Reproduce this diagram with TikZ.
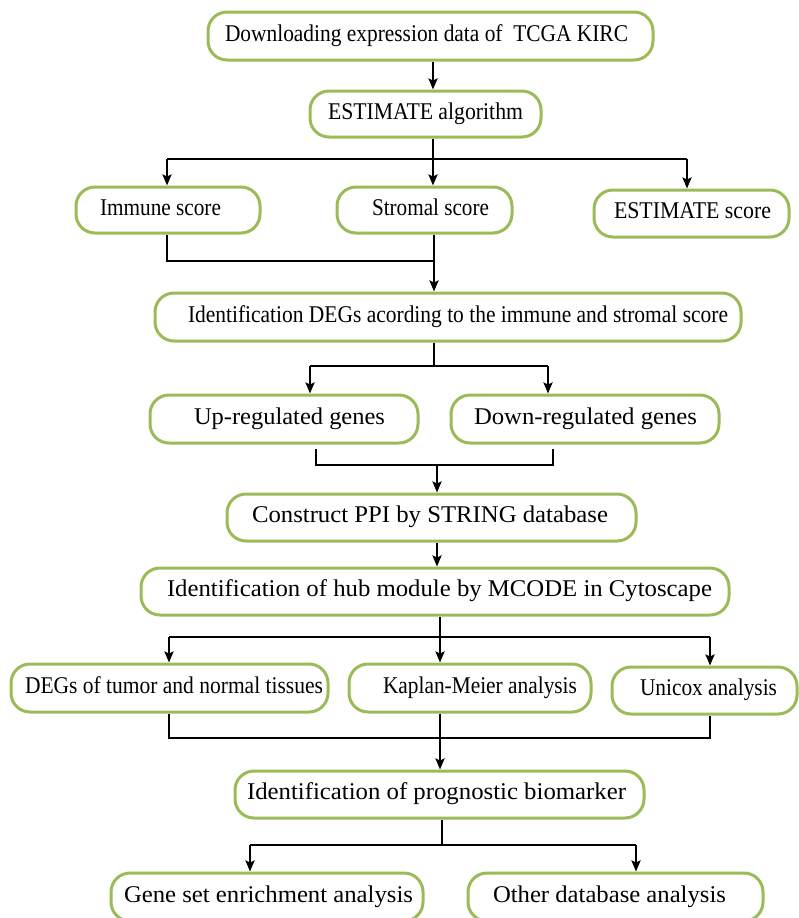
\documentclass[tikz,border=0pt]{standalone}
\usepackage{fontspec}
\setmainfont{Liberation Serif}
\usepackage{graphicx}
\usetikzlibrary{arrows.meta}
\definecolor{boxgreen}{HTML}{9BBB59}
\newcommand{\flowbox}[8]{%
  \node[flowboxstyle, minimum width={(#3-#2)*1pt}, minimum height={(#5-#4)*1pt}]
    (#1) at ({(#2+#3)/2},{(#4+#5)/2})
    {\makebox[\dimexpr #3pt-#2pt\relax][l]{\hspace*{\dimexpr #6pt-#2pt\relax}\resizebox{#7pt}{\height}{#8}}};%
}
\tikzset{
  flowboxstyle/.style={draw=boxgreen, line width=3pt, fill=white, rounded corners=19pt,
    inner xsep=0pt, inner ysep=0pt, text height=18pt, text depth=8pt,
    font=\fontsize{24}{28}\selectfont},
  ln/.style={line width=2.5pt, draw=black},
  arr/.style={line width=2.5pt, draw=black, -{Stealth[length=11pt,width=9pt,inset=2pt]}}
}
\begin{document}
\begin{tikzpicture}[x=1pt,y=-1pt]
\useasboundingbox (0,0) rectangle (799,918);
\clip (0,0) rectangle (799,918);
\flowbox{top}{208}{653}{12}{60}{225}{403}{Downloading expression data of \ TCGA KIRC}
\flowbox{estalg}{310}{541}{91}{137}{328}{195}{ESTIMATE algorithm}
\flowbox{immune}{76}{260}{187}{233}{100}{121}{Immune score}
\flowbox{stromal}{337}{512}{187}{233}{372}{117}{Stromal score}
\flowbox{estscore}{594}{789}{190}{237}{614}{157}{ESTIMATE score}
\flowbox{degid}{155}{741}{293}{341}{188}{540}{Identification DEGs acording to the immune and stromal score}
\flowbox{up}{150}{418}{395}{443}{194}{191}{Up-regulated genes}
\flowbox{down}{451}{719}{395}{443}{474}{223}{Down-regulated genes}
\flowbox{ppi}{227}{636}{494}{541}{252}{356}{Construct PPI by STRING database}
\flowbox{hub}{141}{729}{568}{615}{167}{545}{Identification of hub module by MCODE in Cytoscape}
\flowbox{tumor}{11}{328}{664}{712}{25}{298}{DEGs of tumor and normal tissues}
\flowbox{km}{349}{591}{664}{712}{383}{194}{Kaplan-Meier analysis}
\flowbox{unicox}{612}{797}{667}{714}{640}{137}{Unicox analysis}
\flowbox{prog}{235}{644}{771}{818}{247}{379}{Identification of prognostic biomarker}
\flowbox{gsea}{111}{423}{873}{921}{124}{289}{Gene set enrichment analysis}
\flowbox{other}{468}{763}{873}{921}{493}{233}{Other database analysis}
% junction coordinates
\coordinate (a1) at (433,159); \coordinate (a1L) at (167,159); \coordinate (a1R) at (687,159);
\coordinate (b1) at (434,261); \coordinate (b1L) at (167,261);
\coordinate (c1) at (434,366); \coordinate (c1L) at (310,366); \coordinate (c1R) at (548,366);
\coordinate (dL0) at (316,449); \coordinate (dR0) at (553,449);
\coordinate (d1) at (437,465); \coordinate (d1L) at (316,465); \coordinate (d1R) at (553,465);
\coordinate (e1) at (440,637); \coordinate (e1L) at (169,637); \coordinate (e1R) at (710,637);
\coordinate (f1) at (440,738); \coordinate (f1L) at (169,738); \coordinate (f1R) at (710,738);
\coordinate (g1) at (442,845); \coordinate (g1L) at (250,845); \coordinate (g1R) at (636,845);
% connectors
\draw[arr] (top.south -| a1) -- (estalg.north -| a1);
\draw[ln] (estalg.south -| a1) -- (a1);
\draw[ln] (a1L) -- (a1R);
\draw[arr] (a1L) -- (a1L |- immune.north);
\draw[arr] (a1) -- (a1 |- stromal.north);
\draw[arr] (a1R) -- (a1R |- estscore.north);
\draw[ln] (immune.south -| b1L) -- (b1L) -- (b1);
\draw[ln] (stromal.south -| b1) -- (b1);
\draw[arr] (b1) -- (b1 |- degid.north);
\draw[ln] (degid.south -| c1) -- (c1);
\draw[ln] (c1L) -- (c1R);
\draw[arr] (c1L) -- (c1L |- up.north);
\draw[arr] (c1R) -- (c1R |- down.north);
\draw[ln] (dL0) -- (d1L) -- (d1R) -- (dR0);
\draw[arr] (d1) -- (d1 |- ppi.north);
\draw[arr] (ppi.south -| d1) -- (hub.north -| d1);
\draw[ln] (hub.south -| e1) -- (e1);
\draw[ln] (e1L) -- (e1R);
\draw[arr] (e1L) -- (e1L |- tumor.north);
\draw[arr] (e1) -- (e1 |- km.north);
\draw[arr] (e1R) -- (e1R |- unicox.north);
\draw[ln] (tumor.south -| f1L) -- (f1L) -- (f1R) -- (unicox.south -| f1R);
\draw[ln] (km.south -| f1) -- (f1);
\draw[arr] (f1) -- (f1 |- prog.north);
\draw[ln] (prog.south -| g1) -- (g1);
\draw[ln] (g1L) -- (g1R);
\draw[arr] (g1L) -- (g1L |- gsea.north);
\draw[arr] (g1R) -- (g1R |- other.north);
\end{tikzpicture}
\end{document}
